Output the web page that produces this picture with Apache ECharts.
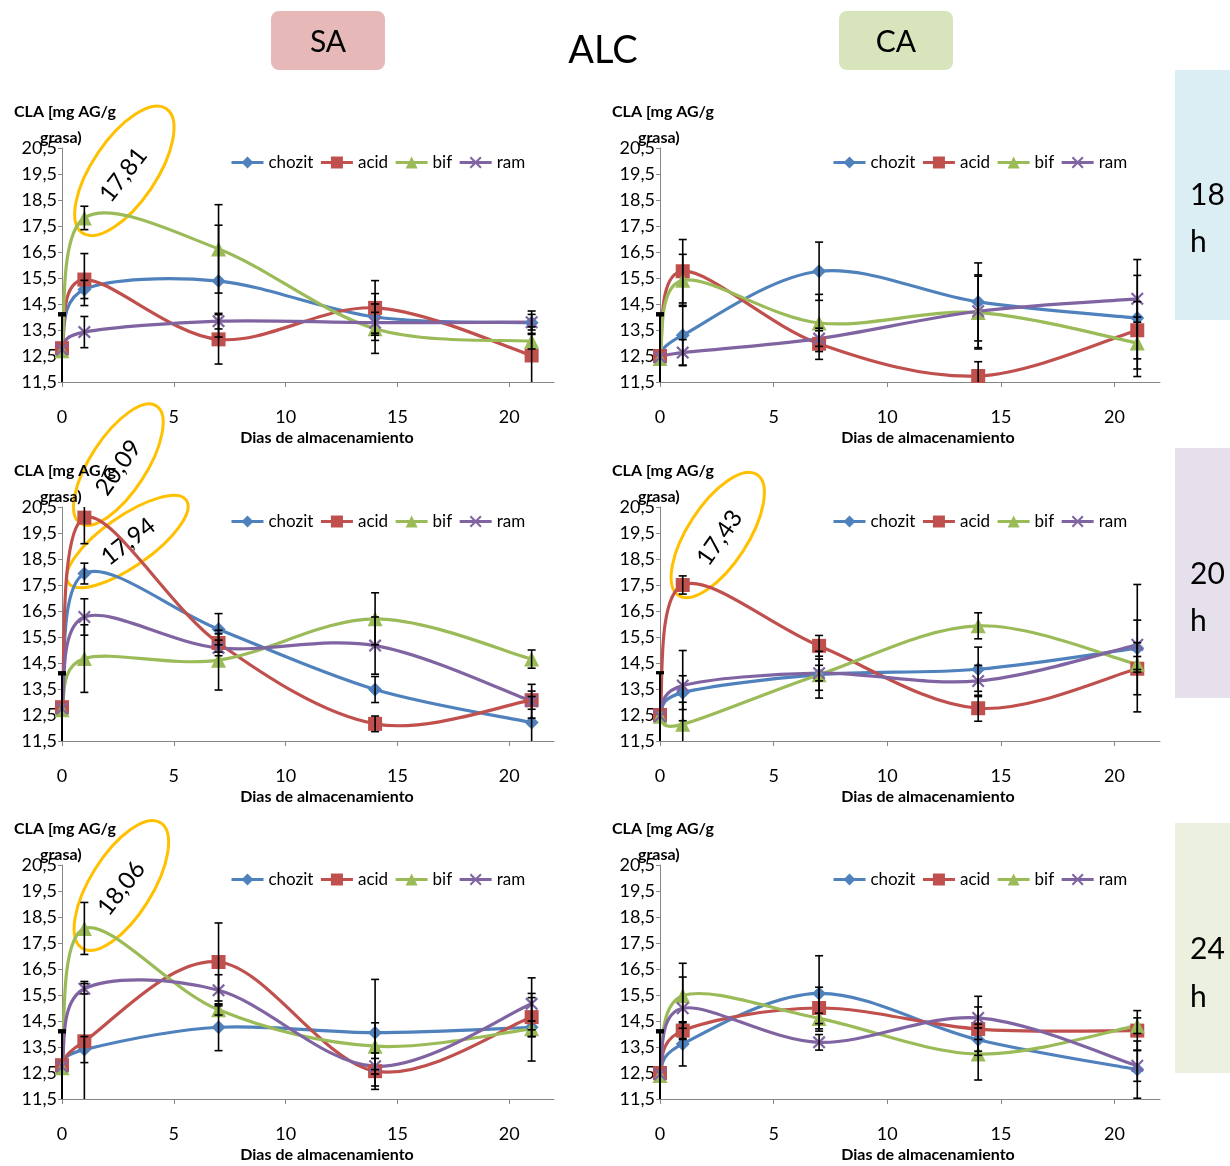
<!DOCTYPE html>
<html><head><meta charset="utf-8">
<script src="https://cdn.jsdelivr.net/npm/echarts@6/dist/echarts.min.js"></script>
<style>html,body{margin:0;padding:0;background:#fff}#c{width:1230px;height:1166px}</style>
</head><body><div id="c"></div>
<script>
// ---- data ----
const days = [0, 1, 7, 14, 21];
const seriesNames = ['chozit', 'acid', 'bif', 'ram'];
const yTicks = [11.5, 12.5, 13.5, 14.5, 15.5, 16.5, 17.5, 18.5, 19.5, 20.5];
const xTicks = [0, 5, 10, 15, 20];

// SA 18 h
const sa18_chozit = [12.8, 15.06, 15.38, 14.0, 13.78];
const sa18_acid   = [12.8, 15.44, 13.14, 14.35, 12.52];
const sa18_bif    = [12.7, 17.81, 16.62, 13.55, 13.07];
const sa18_ram    = [12.75, 13.42, 13.84, 13.78, 13.8];
const sa18_chozit_err = [1.35, 0.35, 2.15, 0.9, 0.45];
const sa18_acid_err   = [1.35, 1.0, 0.95, 1.05, 1.1];
const sa18_bif_err    = [1.35, 0.45, 1.7, 0.95, 0.3];
const sa18_ram_err    = [1.35, 0.6, 0.3, 0.4, 0.3];

// CA 18 h
const ca18_chozit = [12.5, 13.3, 15.76, 14.58, 13.96];
const ca18_acid   = [12.5, 15.76, 12.97, 11.73, 13.49];
const ca18_bif    = [12.4, 15.41, 13.77, 14.17, 13.0];
const ca18_ram    = [12.45, 12.63, 13.17, 14.22, 14.7];
const ca18_chozit_err = [1.65, 1.15, 1.12, 1.5, 2.25];
const ca18_acid_err   = [1.65, 1.22, 0.6, 0.55, 1.1];
const ca18_bif_err    = [1.65, 1.0, 1.1, 1.4, 1.0];
const ca18_ram_err    = [1.65, 0.5, 0.3, 1.4, 0.9];

// SA 20 h
const sa20_chozit = [12.8, 17.94, 15.8, 13.48, 12.21];
const sa20_acid   = [12.8, 20.09, 15.27, 12.16, 13.07];
const sa20_bif    = [12.7, 14.67, 14.61, 16.2, 14.65];
const sa20_ram    = [12.75, 16.27, 15.08, 15.17, 13.03];
const sa20_chozit_err = [1.35, 0.4, 0.6, 0.5, 1.0];
const sa20_acid_err   = [1.35, 1.0, 0.35, 0.3, 0.35];
const sa20_bif_err    = [1.35, 1.3, 1.15, 1.0, 0.35];
const sa20_ram_err    = [1.35, 0.7, 0.3, 1.1, 0.65];

// CA 20 h
const ca20_chozit = [12.5, 13.36, 14.05, 14.26, 15.07];
const ca20_acid   = [12.5, 17.5, 15.16, 12.76, 14.28];
const ca20_bif    = [12.45, 12.14, 14.05, 15.93, 14.45];
const ca20_ram    = [12.45, 13.63, 14.11, 13.81, 15.2];
const ca20_chozit_err = [1.65, 0.65, 0.6, 0.85, 2.45];
const ca20_acid_err   = [1.65, 0.35, 0.4, 0.5, 1.0];
const ca20_bif_err    = [1.65, 0.85, 0.9, 0.5, 0.3];
const ca20_ram_err    = [1.65, 1.35, 0.3, 0.6, 0.95];

// SA 24 h
const sa24_chozit = [12.8, 13.4, 14.26, 14.05, 14.26];
const sa24_acid   = [12.8, 13.72, 16.77, 12.57, 14.65];
const sa24_bif    = [12.7, 18.06, 14.93, 13.53, 14.2];
const sa24_ram    = [12.75, 15.74, 15.68, 12.76, 15.16];
const sa24_chozit_err = [1.35, 0.5, 0.9, 2.05, 1.3];
const sa24_acid_err   = [1.35, 2.3, 1.5, 0.7, 0.75];
const sa24_bif_err    = [1.35, 1.0, 0.2, 0.9, 0.3];
const sa24_ram_err    = [1.35, 0.2, 0.6, 0.3, 1.0];

// CA 24 h
const ca24_chozit = [12.5, 13.62, 15.56, 13.78, 12.63];
const ca24_acid   = [12.5, 14.13, 15.0, 14.19, 14.13];
const ca24_bif    = [12.4, 15.47, 14.6, 13.23, 14.32];
const ca24_ram    = [12.45, 14.99, 13.68, 14.62, 12.78];
const ca24_chozit_err = [1.65, 0.85, 1.45, 0.6, 1.1];
const ca24_acid_err   = [1.65, 0.3, 0.8, 0.85, 0.77];
const ca24_bif_err    = [1.65, 1.25, 0.2, 1.0, 0.3];
const ca24_ram_err    = [1.65, 1.2, 0.3, 0.83, 0.6];

const panels = [
  { col: 0, row: 0, vals: [sa18_chozit, sa18_acid, sa18_bif, sa18_ram], errs: [sa18_chozit_err, sa18_acid_err, sa18_bif_err, sa18_ram_err] },
  { col: 1, row: 0, vals: [ca18_chozit, ca18_acid, ca18_bif, ca18_ram], errs: [ca18_chozit_err, ca18_acid_err, ca18_bif_err, ca18_ram_err] },
  { col: 0, row: 1, vals: [sa20_chozit, sa20_acid, sa20_bif, sa20_ram], errs: [sa20_chozit_err, sa20_acid_err, sa20_bif_err, sa20_ram_err] },
  { col: 1, row: 1, vals: [ca20_chozit, ca20_acid, ca20_bif, ca20_ram], errs: [ca20_chozit_err, ca20_acid_err, ca20_bif_err, ca20_ram_err] },
  { col: 0, row: 2, vals: [sa24_chozit, sa24_acid, sa24_bif, sa24_ram], errs: [sa24_chozit_err, sa24_acid_err, sa24_bif_err, sa24_ram_err] },
  { col: 1, row: 2, vals: [ca24_chozit, ca24_acid, ca24_bif, ca24_ram], errs: [ca24_chozit_err, ca24_acid_err, ca24_bif_err, ca24_ram_err] }
];

// annotations: panel index, series index, point index, label
const annotations = [
  { panel: 0, s: 2, i: 1, label: '17,81' },
  { panel: 2, s: 1, i: 1, label: '20,09' },
  { panel: 2, s: 0, i: 1, label: '17,94' },
  { panel: 3, s: 1, i: 1, label: '17,43' },
  { panel: 4, s: 2, i: 1, label: '18,06' }
];

// ---- layout / style ----
const FONT = 'Lato, "Open Sans", sans-serif';
const colors = ['#4F81BD', '#C0504D', '#9BBB59', '#8064A2'];
const xPath = 'path://M0,1.2 L1.2,0 L5,3.8 L8.8,0 L10,1.2 L6.2,5 L10,8.8 L8.8,10 L5,6.2 L1.2,10 L0,8.8 L3.8,5 Z';
const symbols = ['diamond', 'rect', 'triangle', xPath];
const symbolSizes = [14, 14, 15, 13];
const colLeft = [62, 660], colWidth = [492, 500];
const rowTop = [148, 507, 865], gridH = 234;
const legendLeft = [225, 827];
const annLayout = [
  { ex: 40, ey: -47, a: 75, b: 32, th: 56, tx: 39, ty: -43, tr: 52 },
  { ex: 34, ey: -53, a: 70, b: 28, th: 57, tx: 34, ty: -50, tr: 55 },
  { ex: 43, ey: -32, a: 72, b: 25, th: 35, tx: 44, ty: -32, tr: 38 },
  { ex: 35, ey: -50, a: 72, b: 30, th: 57, tx: 37, ty: -47, tr: 55 },
  { ex: 37, ey: -43, a: 74, b: 31, th: 58, tx: 37, ty: -40, tr: 52 }
];
const Y_MIN = 11.5, Y_MAX = 20.5;

const fmt = v => String(v.toFixed(1)).replace('.', ',');

// Excel-like smoothed segment (Catmull-Rom Bezier, 1/6 tension) drawn through axis coords
function smoothSegment(color) {
  return (params, api) => {
    const P = [0, 1, 2, 3].map(j => api.coord([api.value(2 * j), api.value(2 * j + 1)]));
    const [p0, p1, p2, p3] = P;
    const cp1 = [p1[0] + (p2[0] - p0[0]) / 6, p1[1] + (p2[1] - p0[1]) / 6];
    const cp2 = [p2[0] - (p3[0] - p1[0]) / 6, p2[1] - (p3[1] - p1[1]) / 6];
    return {
      type: 'bezierCurve',
      shape: { x1: p1[0], y1: p1[1], x2: p2[0], y2: p2[1], cpx1: cp1[0], cpy1: cp1[1], cpx2: cp2[0], cpy2: cp2[1] },
      style: { stroke: color, lineWidth: 3.2, fill: null, lineCap: 'round' }
    };
  };
}

const grid = [], xAxis = [], yAxis = [], series = [], legend = [];
panels.forEach((p, k) => {
  grid.push({ left: colLeft[p.col], top: rowTop[p.row], width: colWidth[p.col], height: gridH });
  xAxis.push({
    type: 'value', gridIndex: k, min: 0, max: 22,
    axisLine: { show: true, onZero: false, lineStyle: { color: '#868686', width: 1 } },
    axisTick: { show: true, customValues: xTicks, length: 5, lineStyle: { color: '#868686' } },
    axisLabel: { customValues: xTicks, margin: 26, fontSize: 18, color: '#000', fontFamily: FONT },
    splitLine: { show: false }
  });
  yAxis.push({
    type: 'value', gridIndex: k, min: Y_MIN, max: Y_MAX,
    axisLine: { show: true, onZero: false, lineStyle: { color: '#868686', width: 1 } },
    axisTick: { show: true, customValues: yTicks, length: 4, lineStyle: { color: '#868686' } },
    axisLabel: { customValues: yTicks, margin: 5, fontSize: 18, color: '#000', fontFamily: FONT, formatter: fmt },
    splitLine: { show: false }
  });
  legend.push({
    data: seriesNames, left: legendLeft[p.col], top: rowTop[p.row] + 1,
    itemWidth: 32, itemHeight: 15, itemGap: 6, selectedMode: false,
    lineStyle: { width: 3, opacity: 1 },
    textStyle: { fontSize: 17, color: '#000', fontFamily: FONT }
  });
  seriesNames.forEach((name, s) => {
    const v = p.vals[s];
    const n = days.length;
    // markers (also used by the legend)
    series.push({
      name, type: 'line', xAxisIndex: k, yAxisIndex: k,
      data: days.map((d, i) => [d, v[i]]),
      symbol: symbols[s], symbolSize: symbolSizes[s],
      lineStyle: { color: colors[s], width: 3, opacity: 0 },
      itemStyle: { color: colors[s] }, z: 3, animation: false
    });
    const segs = [];
    for (let i = 0; i < n - 1; i++) {
      const a = Math.max(i - 1, 0), d = Math.min(i + 2, n - 1);
      segs.push([days[a], v[a], days[i], v[i], days[i + 1], v[i + 1], days[d], v[d]]);
    }
    // smoothed curve
    series.push({
      name: name + '-curve', type: 'custom', xAxisIndex: k, yAxisIndex: k, clip: false, z: 2, animation: false, silent: true,
      encode: { x: [0, 2, 4, 6], y: [1, 3, 5, 7] },
      data: segs, renderItem: smoothSegment(colors[s])
    });
  });
  const errData = [];
  seriesNames.forEach((name, s) => {
    days.forEach((d, i) => {
      errData.push([d, p.vals[s][i] - p.errs[s][i], p.vals[s][i] + p.errs[s][i]]);
    });
  });
  series.push({
    name: 'err' + k, type: 'custom', xAxisIndex: k, yAxisIndex: k, clip: false, z: 5, animation: false,
    encode: { x: 0, y: [1, 2] }, silent: true,
    data: errData,
    renderItem: (params, api) => {
      const x = api.value(0), lo = api.value(1), hi = api.value(2);
      const loC = Math.max(lo, Y_MIN), hiC = Math.min(hi, Y_MAX);
      const a = api.coord([x, hiC]), b = api.coord([x, loC]);
      const w = 4;
      const st = { stroke: '#000', lineWidth: 1.6 };
      const ch = [{ type: 'line', shape: { x1: a[0], y1: a[1], x2: b[0], y2: b[1] }, style: st }];
      if (hi <= Y_MAX) ch.push({ type: 'line', shape: { x1: a[0] - w, y1: a[1], x2: a[0] + w, y2: a[1] }, style: st });
      if (lo >= Y_MIN) ch.push({ type: 'line', shape: { x1: b[0] - w, y1: b[1], x2: b[0] + w, y2: b[1] }, style: st });
      return { type: 'group', children: ch };
    }
  });
});

const staticGraphic = [];
// header
staticGraphic.push({ type: 'rect', shape: { x: 271, y: 11, width: 114, height: 59, r: 8 }, style: { fill: '#E6B8B7' } });
staticGraphic.push({ type: 'text', x: 328, y: 42, style: { text: 'SA', font: '30px ' + FONT, fill: '#000', textAlign: 'center', textVerticalAlign: 'middle' } });
staticGraphic.push({ type: 'rect', shape: { x: 839, y: 11, width: 114, height: 59, r: 8 }, style: { fill: '#D8E4BC' } });
staticGraphic.push({ type: 'text', x: 896, y: 42, style: { text: 'CA', font: '30px ' + FONT, fill: '#000', textAlign: 'center', textVerticalAlign: 'middle' } });
staticGraphic.push({ type: 'text', x: 603, y: 51, style: { text: 'ALC', font: '38px ' + FONT, fill: '#000', textAlign: 'center', textVerticalAlign: 'middle' } });
// right boxes
const sideBoxes = [
  { y: 70, h: 250, c: '#DAEEF3', t: '18', t1: 195, t2: 242 },
  { y: 448, h: 250, c: '#E5E0EC', t: '20', t1: 574, t2: 621 },
  { y: 823, h: 250, c: '#EBF1DE', t: '24', t1: 949, t2: 997 }
];
sideBoxes.forEach(b => {
  staticGraphic.push({ type: 'rect', shape: { x: 1175, y: b.y, width: 60, height: b.h }, style: { fill: b.c } });
  staticGraphic.push({ type: 'text', x: 1190, y: b.t1, style: { text: b.t, font: '30px ' + FONT, fill: '#000', textAlign: 'left', textVerticalAlign: 'middle' } });
  staticGraphic.push({ type: 'text', x: 1190, y: b.t2, style: { text: 'h', font: '30px ' + FONT, fill: '#000', textAlign: 'left', textVerticalAlign: 'middle' } });
});
// axis names
panels.forEach(p => {
  const left = colLeft[p.col] - 48, top = rowTop[p.row];
  staticGraphic.push({ type: 'text', x: left, y: top - 36, z: 10, style: { text: 'CLA [mg AG/g', font: 'bold 16px ' + FONT, fill: '#000', textAlign: 'left', textVerticalAlign: 'middle' } });
  staticGraphic.push({ type: 'text', x: left + 26, y: top - 10, z: 10, style: { text: 'grasa)', font: 'bold 16px ' + FONT, fill: '#000', textAlign: 'left', textVerticalAlign: 'middle' } });
  staticGraphic.push({ type: 'text', x: colLeft[p.col] + (p.col === 0 ? 265 : 268), y: top + gridH + 56, style: { text: 'Dias de almacenamiento', font: 'bold 16px ' + FONT, fill: '#000', textAlign: 'center', textVerticalAlign: 'middle' } });
});

const chart = echarts.init(document.getElementById('c'), null, { renderer: 'canvas' });
chart.setOption({ animation: false, backgroundColor: '#fff', grid, xAxis, yAxis, legend, series, graphic: staticGraphic });

const annGraphic = annotations.map((an, j) => {
  const p = panels[an.panel];
  const pt = chart.convertToPixel({ gridIndex: an.panel }, [days[an.i], p.vals[an.s][an.i]]);
  const L = annLayout[j];
  const rad = d => d * Math.PI / 180;
  return { type: 'group', z: 20, children: [
    { type: 'ellipse', x: pt[0] + L.ex, y: pt[1] + L.ey, rotation: rad(L.th), shape: { cx: 0, cy: 0, rx: L.a, ry: L.b }, style: { fill: 'none', stroke: '#FFC000', lineWidth: 3 } },
    { type: 'text', x: pt[0] + L.tx, y: pt[1] + L.ty, rotation: rad(L.tr), style: { text: an.label, font: '24px ' + FONT, fill: '#000', textAlign: 'center', textVerticalAlign: 'middle' } }
  ] };
});
chart.setOption({ graphic: staticGraphic.concat(annGraphic) }, { replaceMerge: ['graphic'] });
</script></body></html>
